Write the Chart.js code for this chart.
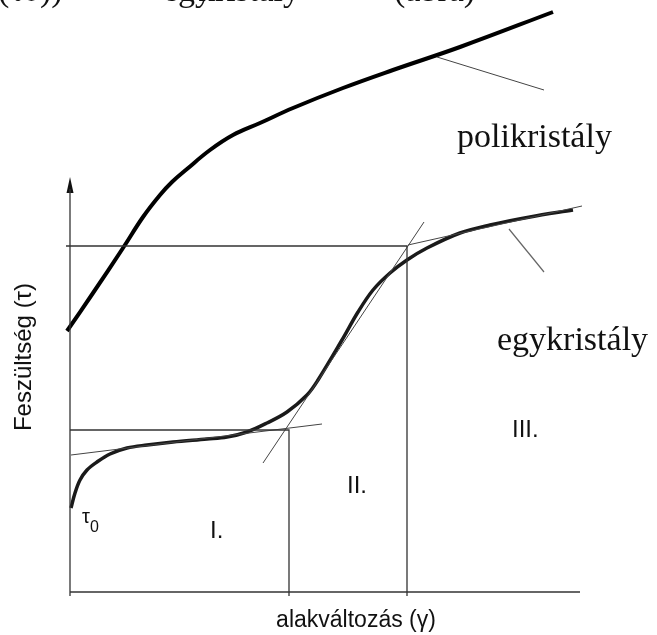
<!DOCTYPE html>
<html>
<head>
<meta charset="utf-8">
<script src="https://cdn.jsdelivr.net/npm/chart.js@4.4.1/dist/chart.umd.min.js"></script>
<style>
  html, body { margin: 0; padding: 0; background: #fff; }
  canvas { display: block; }
</style>
</head>
<body>
<canvas id="chartFesz" width="657" height="635"></canvas>
<script>
// strain (gamma) / stress (tau) in arbitrary units, origin at the axes corner
const polyStrain = [-3, 23, 53, 73, 90, 102, 117, 140, 163, 190, 223, 273, 323, 390, 483];
const polyStress = [261, 299, 344, 375, 397, 410, 423, 442, 457, 469, 484, 504, 522, 545, 580];

const egyStrain = [1, 5, 10, 17, 27, 40, 57, 77, 103, 137, 157, 177, 197, 217, 237, 248, 272, 288, 303, 320, 337, 357, 390, 420, 460, 503];
const egyStress = [84, 99, 112, 122, 130, 138, 144, 147, 150, 153, 155, 160, 169, 180, 197, 212, 252, 280, 302, 319, 332, 344, 359, 367, 375, 382];

// stage limits (gamma) and the stresses read at them
const stageStrain = [219, 337];
const stageStress = [162, 346];

// tangents to the single crystal curve: [x1, y1, x2, y2]
const tangentI = [1, 137, 252, 168];
const tangentII = [193, 129, 354, 370];
const tangentIII = [338, 347, 512, 386];

// leader lines to the curve names
const leaderPoly = [367, 535, 474, 502];
const leaderEgy = [439, 363, 474, 320];

const axisEnd = { x: 510, y: 407 };

const toPts = (xs, ys) => xs.map((x, i) => ({ x: x, y: ys[i] }));
const seg = (s) => [{ x: s[0], y: s[1] }, { x: s[2], y: s[3] }];

// small arrow head for the stress axis
const arrow = document.createElement("canvas");
arrow.width = 8;
arrow.height = 16;
const actx = arrow.getContext("2d");
actx.fillStyle = "#111";
actx.beginPath();
actx.moveTo(4, 0);
actx.lineTo(7.5, 16);
actx.lineTo(0.5, 16);
actx.closePath();
actx.fill();

const thin = { showLine: true, pointRadius: 0, borderColor: "#333", borderWidth: 1.3, fill: false };
const tang = { showLine: true, pointRadius: 0, borderColor: "#444", borderWidth: 1, fill: false };

const data = {
  datasets: [
    { ...thin, data: [{ x: 0, y: 0 }, { x: axisEnd.x, y: 0 }] },
    { ...thin, data: [{ x: 0, y: -4 }, { x: 0, y: axisEnd.y - 4 }] },
    { showLine: false, data: [{ x: 0, y: axisEnd.y }], pointStyle: arrow, pointRadius: 8 },
    { ...thin, data: [{ x: -4, y: stageStress[1] }, { x: stageStrain[1], y: stageStress[1] }, { x: stageStrain[1], y: -4 }] },
    { ...thin, data: [{ x: 0, y: stageStress[0] }, { x: stageStrain[0], y: stageStress[0] }, { x: stageStrain[0], y: -4 }] },
    { ...tang, data: seg(tangentI) },
    { ...tang, data: seg(tangentII) },
    { ...tang, data: seg(tangentIII) },
    { ...tang, data: seg(leaderPoly) },
    { ...tang, borderColor: "#666", borderWidth: 1.2, data: seg(leaderEgy) },
    {
      label: "egykristály",
      showLine: true,
      data: toPts(egyStrain, egyStress),
      borderColor: "#1a1a1a",
      borderWidth: 3.5,
      pointRadius: 0,
      tension: 0.35,
    },
    {
      label: "polikristály",
      showLine: true,
      data: toPts(polyStrain, polyStress),
      borderColor: "#000",
      borderWidth: 4,
      pointRadius: 0,
      tension: 0.4,
    },
  ],
};

const labels = [
  { text: "polikristály", x: 387, y: 445, font: "34px 'Liberation Serif'" },
  { text: "egykristály", x: 427, y: 242, font: "34px 'Liberation Serif'" },
  { text: "III.", x: 442, y: 155, font: "24px 'Liberation Sans'" },
  { text: "II.", x: 277, y: 99, font: "24px 'Liberation Sans'" },
  { text: "I.", x: 140, y: 54, font: "24px 'Liberation Sans'" },
  { text: "τ", x: 12, y: 69, font: "20px 'Liberation Sans'" },
  { text: "0", x: 20, y: 60, font: "16px 'Liberation Sans'" },
  { text: "alakváltozás (γ)", x: 286, y: -35, font: "23px 'Liberation Sans'", align: "center" },
  // cut-off caption line above the figure
  { text: "(τ0))", x: -72, y: 591, font: "34px 'Liberation Serif'" },
  { text: "egy", x: 93, y: 591, font: "34px 'Liberation Serif'" },
  { text: "kristály", x: 230, y: 591, font: "34px 'Liberation Serif'", align: "right" },
  { text: "(ábra)", x: 324, y: 591, font: "34px 'Liberation Serif'" },
];

const textPlugin = {
  id: "texts",
  afterDatasetsDraw(chart) {
    const ctx = chart.ctx;
    const sx = chart.scales.x;
    const sy = chart.scales.y;
    ctx.save();
    ctx.fillStyle = "#111";
    ctx.textBaseline = "alphabetic";
    labels.forEach((l) => {
      ctx.font = l.font;
      ctx.textAlign = l.align || "left";
      ctx.fillText(l.text, sx.getPixelForValue(l.x), sy.getPixelForValue(l.y));
    });
    // stress axis title
    ctx.translate(sx.getPixelForValue(-46), sy.getPixelForValue(235));
    ctx.rotate(-Math.PI / 2);
    ctx.font = "24px 'Liberation Sans'";
    ctx.textAlign = "center";
    ctx.textBaseline = "middle";
    ctx.fillText("Feszültség (τ)", 0, 0);
    ctx.restore();
  },
};

const config = {
  type: "scatter",
  data,
  options: {
    responsive: false,
    animation: false,
    layout: { padding: 0, autoPadding: false },
    plugins: { legend: { display: false }, tooltip: { enabled: false } },
    scales: {
      x: { type: "linear", display: false, min: -70, max: 587 },
      y: { type: "linear", display: false, min: -43, max: 592 },
    },
  },
  plugins: [textPlugin],
};

const chartFesz = new Chart(document.getElementById("chartFesz"), config);
</script>
</body>
</html>
